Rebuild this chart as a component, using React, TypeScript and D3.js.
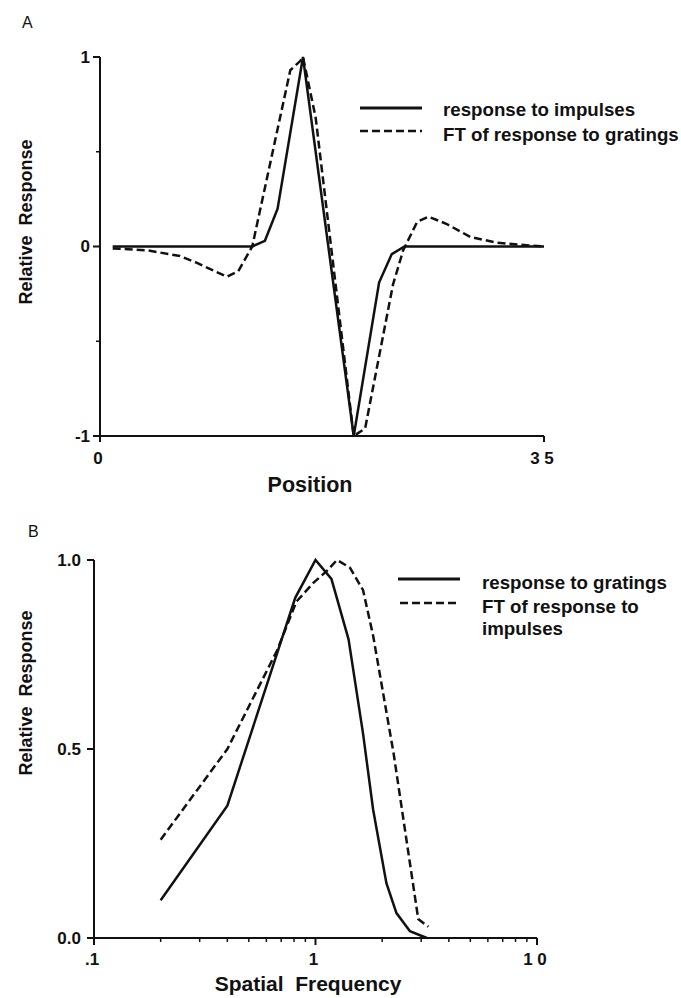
import React from "react";
import * as d3 from "d3";

// Panel A: position domain
const posImpulseX = [1, 12, 13, 14, 16, 20, 22, 23, 24, 35];
const posImpulseY = [0, 0, 0.03, 0.2, 1, -1, -0.19, -0.04, 0, 0];
const posFTX = [1, 3.7, 6.3, 7.6, 10, 10.9, 12, 15, 15.8, 16, 17, 20, 20.9, 23.1, 23.9, 25, 25.9, 27.3, 29.2, 31.3, 33, 35];
const posFTY = [-0.01, -0.02, -0.05, -0.085, -0.16, -0.13, 0, 0.93, 0.98, 1, 0.68, -1, -0.96, -0.2, -0.02, 0.13, 0.157, 0.12, 0.05, 0.02, 0.01, 0];
const posYTicks = [-1, 0, 1];
const posYMinor = [-0.5, 0.5];
const posXTicks = [0, 35];
const posXTickLabels = ["0", "3 5"];
const legendA = ["response to impulses", "FT of response to gratings"];

// Panel B: spatial frequency domain
const sfGratX = [0.2, 0.4, 0.81, 1.0, 1.18, 1.41, 1.64, 1.82, 2.09, 2.32, 2.67, 3.18];
const sfGratY = [0.1, 0.35, 0.9, 1.0, 0.95, 0.79, 0.54, 0.34, 0.145, 0.066, 0.018, 0];
const sfFTX = [0.2, 0.4, 0.67, 0.82, 0.98, 1.12, 1.25, 1.43, 1.64, 1.82, 2.25, 2.91, 3.23];
const sfFTY = [0.26, 0.5, 0.76, 0.89, 0.94, 0.97, 1.0, 0.98, 0.92, 0.8, 0.49, 0.05, 0.03];
const sfYTicks = [0, 0.5, 1.0];
const sfYTickLabels = ["0.0", "0.5", "1.0"];
const sfXTicks = [0.1, 1, 10];
const sfXTickLabels = [".1", "1", "1 0"];
const legendB = ["response to gratings", "FT of response to", "impulses"];

const FONT = "'Liberation Sans', Arial, Helvetica, sans-serif";

export default function App() {
  const xA = d3.scaleLinear().domain([0, 35]).range([100, 544]);
  const yA = d3.scaleLinear().domain([-1, 1]).range([436, 57]);
  const xB = d3.scaleLog().domain([0.1, 10]).range([94, 537]);
  const yB = d3.scaleLinear().domain([0, 1]).range([938, 560]);

  const lineA = d3.line<[number, number]>().x((d) => xA(d[0])).y((d) => yA(d[1]));
  const lineB = d3.line<[number, number]>().x((d) => xB(d[0])).y((d) => yB(d[1]));

  const zip = (a: number[], b: number[]) => a.map((v, i) => [v, b[i]] as [number, number]);

  const minorB: number[] = [];
  [0.1, 1].forEach((base) => {
    for (let k = 2; k <= 9; k++) minorB.push(base * k);
  });

  const stroke = "#111";
  const dash = "8 4";

  return (
    <svg
      width={681}
      height={998}
      style={{ position: "absolute", left: 0, top: 0, background: "#fff" }}
      fontFamily={FONT}
    >
      <rect x={0} y={0} width={681} height={998} fill="#fff" />
      {/* Panel A */}
      <text x={22} y={28} fontSize={16} fill={stroke}>A</text>
      <line x1={xA(0)} x2={xA(0)} y1={yA(1)} y2={yA(-1) + 6} stroke={stroke} strokeWidth={2} />
      <line x1={xA(0)} x2={xA(35)} y1={yA(-1)} y2={yA(-1)} stroke={stroke} strokeWidth={2} />
      {posYTicks.map((t) => (
        <g key={"ya" + t}>
          <line x1={xA(0) - 7} x2={xA(0)} y1={yA(t)} y2={yA(t)} stroke={stroke} strokeWidth={2} />
          <text x={xA(0) - 10} y={yA(t)} dy="0.35em" textAnchor="end" fontSize={17} fontWeight="bold" fill={stroke}>
            {String(t)}
          </text>
        </g>
      ))}
      {posYMinor.map((t) => (
        <line key={"yam" + t} x1={xA(0) - 4} x2={xA(0)} y1={yA(t)} y2={yA(t)} stroke={stroke} strokeWidth={1.5} />
      ))}
      {posXTicks.map((t, i) => (
        <g key={"xa" + t}>
          <line x1={xA(t)} x2={xA(t)} y1={yA(-1)} y2={yA(-1) + 6} stroke={stroke} strokeWidth={2} />
          <text x={xA(t) - 2} y={yA(-1) + 28} textAnchor="middle" fontSize={17} fontWeight="bold" fill={stroke}>
            {posXTickLabels[i]}
          </text>
        </g>
      ))}
      <text x={310} y={492} textAnchor="middle" fontSize={21.5} fontWeight="bold" fill={stroke}>Position</text>
      <text
        transform={`translate(32,222) rotate(-90)`}
        textAnchor="middle"
        fontSize={18}
        fontWeight="bold"
        fill={stroke}
        style={{ whiteSpace: "pre" }}
      >
        {"Relative  Response"}
      </text>
      <path d={lineA(zip(posFTX, posFTY)) || ""} fill="none" stroke={stroke} strokeWidth={2.5} strokeDasharray={dash} />
      <path d={lineA(zip(posImpulseX, posImpulseY)) || ""} fill="none" stroke={stroke} strokeWidth={2.5} />
      <line x1={360} x2={422} y1={108} y2={108} stroke={stroke} strokeWidth={3} />
      <line x1={360} x2={422} y1={131} y2={131} stroke={stroke} strokeWidth={2.5} strokeDasharray={dash} />
      <text x={443} y={116} fontSize={18.7} fontWeight="bold" fill={stroke}>{legendA[0]}</text>
      <text x={443} y={141} fontSize={18.7} fontWeight="bold" fill={stroke}>{legendA[1]}</text>

      {/* Panel B */}
      <text x={28} y={537} fontSize={16} fill={stroke}>B</text>
      <line x1={xB(0.1)} x2={xB(0.1)} y1={yB(1)} y2={yB(0) + 6} stroke={stroke} strokeWidth={2} />
      <line x1={xB(0.1)} x2={xB(10)} y1={yB(0)} y2={yB(0)} stroke={stroke} strokeWidth={2} />
      {sfYTicks.map((t, i) => (
        <g key={"yb" + t}>
          <line x1={xB(0.1) - 7} x2={xB(0.1)} y1={yB(t)} y2={yB(t)} stroke={stroke} strokeWidth={2} />
          <text x={xB(0.1) - 13} y={yB(t)} dy="0.35em" textAnchor="end" fontSize={17} fontWeight="bold" fill={stroke}>
            {sfYTickLabels[i]}
          </text>
        </g>
      ))}
      {sfXTicks.map((t, i) => (
        <g key={"xb" + t}>
          <line x1={xB(t)} x2={xB(t)} y1={yB(0)} y2={yB(0) + 7} stroke={stroke} strokeWidth={2} />
          <text x={xB(t) - 2} y={yB(0) + 27} textAnchor="middle" fontSize={17} fontWeight="bold" fill={stroke}>
            {sfXTickLabels[i]}
          </text>
        </g>
      ))}
      {minorB.map((t) => (
        <line key={"mb" + t} x1={xB(t)} x2={xB(t)} y1={yB(0)} y2={yB(0) + 4} stroke={stroke} strokeWidth={1.5} />
      ))}
      <text x={308} y={991} textAnchor="middle" fontSize={21} fontWeight="bold" fill={stroke} style={{ whiteSpace: "pre" }}>
        {"Spatial  Frequency"}
      </text>
      <text
        transform={`translate(32,693) rotate(-90)`}
        textAnchor="middle"
        fontSize={18}
        fontWeight="bold"
        fill={stroke}
        style={{ whiteSpace: "pre" }}
      >
        {"Relative  Response"}
      </text>
      <path d={lineB(zip(sfFTX, sfFTY)) || ""} fill="none" stroke={stroke} strokeWidth={2.5} strokeDasharray={dash} />
      <path d={lineB(zip(sfGratX, sfGratY)) || ""} fill="none" stroke={stroke} strokeWidth={2.5} />
      <line x1={398} x2={460} y1={579} y2={579} stroke={stroke} strokeWidth={3} />
      <line x1={400} x2={458} y1={603} y2={603} stroke={stroke} strokeWidth={2.5} strokeDasharray={dash} />
      <text x={482} y={589} fontSize={18.7} fontWeight="bold" fill={stroke}>{legendB[0]}</text>
      <text x={482} y={613} fontSize={18.7} fontWeight="bold" fill={stroke}>{legendB[1]}</text>
      <text x={482} y={635} fontSize={18.7} fontWeight="bold" fill={stroke}>{legendB[2]}</text>
    </svg>
  );
}
